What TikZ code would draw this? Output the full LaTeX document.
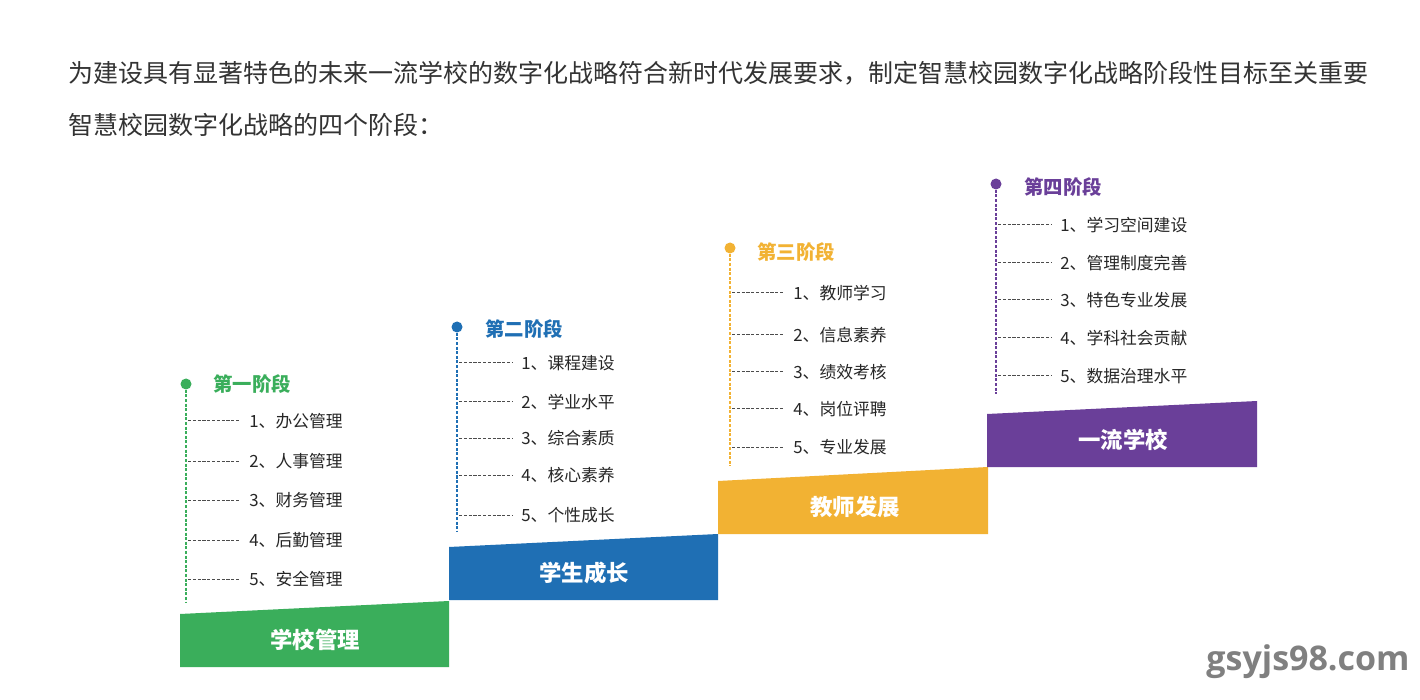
\documentclass[tikz,border=0pt]{standalone}
\usepackage{fontspec}
\setmainfont{Noto Sans CJK SC}
\newfontfamily\markfont{Open Sans}
\definecolor{stageone}{HTML}{3AAE5B}
\definecolor{stagetwo}{HTML}{1F6FB4}
\definecolor{stagethree}{HTML}{F2B233}
\definecolor{stagefour}{HTML}{6A3F99}

\begin{document}
\begin{tikzpicture}[x=0.5pt,y=-0.5pt,
    barlabel/.style ={text=white, font=\fontsize{11.2}{13}\selectfont\bfseries},
    stagedot/.style ={circle, inner sep=0pt, minimum size=5.5pt},
    stagetitle/.style ={anchor=west, inner sep=0pt, font=\fontsize{9.7}{12}\selectfont\bfseries},
    itemtext/.style ={anchor=west, inner sep=0pt, text=black!85, font=\fontsize{8.4}{10}\selectfont},
    stemline/.style ={line width=0.6pt, dash pattern=on 1.5pt off 0.8pt},
    branch/.style ={line width=0.5pt, black!70, dash pattern=on 1.6pt off 0.8pt, shorten >=4.5pt},
    headline/.style ={anchor=west, inner sep=0pt, text=black!80, font=\fontsize{12.5}{15}\selectfont}]
   \fill[white] (0,0) rectangle (1420,700);
   \useasboundingbox (0,0) rectangle (1420,700);

   \node[headline] (h1) at (68,73) {为建设具有显著特色的未来一流学校的数字化战略符合新时代发展要求，制定智慧校园数字化战略阶段性目标至关重要};
   \node[headline] (h2) at (68,125) {智慧校园数字化战略的四个阶段：};

   \fill[stageone] (180,614) -- (449,601) -- (449,667) -- (180,667) -- cycle;
   \fill[stagetwo] (449,547) -- (718,534) -- (718,600) -- (449,600) -- cycle;
   \fill[stagethree] (718,481) -- (988,467) -- (988,534) -- (718,534) -- cycle;
   \fill[stagefour] (987,414) -- (1257,401) -- (1257,467) -- (987,467) -- cycle;
   \node[barlabel] (b1) at (315,640) {学校管理};
   \node[barlabel] (b2) at (584,573) {学生成长};
   \node[barlabel] (b3) at (855,507) {教师发展};
   \node[barlabel] (b4) at (1123,440) {一流学校};

   \node[stagedot, fill=stageone] (d1) at (186,384) {};
   \node[stagetitle, text=stageone] (t1) at (213,384) {第一阶段};
   \coordinate (e1) at (186,602);
   \draw[stemline, stageone] (d1) -- (e1);
   \node[itemtext] (g1) at (249,421) {1、办公管理};
   \node[itemtext] (g2) at (249,461) {2、人事管理};
   \node[itemtext] (g3) at (249,500) {3、财务管理};
   \node[itemtext] (g4) at (249,540) {4、后勤管理};
   \node[itemtext] (g5) at (249,579) {5、安全管理};
   \coordinate (gs1) at (188,421);
   \coordinate (gs2) at (188,461);
   \coordinate (gs3) at (188,500);
   \coordinate (gs4) at (188,540);
   \coordinate (gs5) at (188,579);
   \draw[branch] (gs1) -- (g1.west);
   \draw[branch] (gs2) -- (g2.west);
   \draw[branch] (gs3) -- (g3.west);
   \draw[branch] (gs4) -- (g4.west);
   \draw[branch] (gs5) -- (g5.west);

   \node[stagedot, fill=stagetwo] (d2) at (457,327) {};
   \node[stagetitle, text=stagetwo] (t2) at (485,329) {第二阶段};
   \coordinate (e2) at (457,532);
   \draw[stemline, stagetwo] (d2) -- (e2);
   \node[itemtext] (s1) at (521,363) {1、课程建设};
   \node[itemtext] (s2) at (521,402) {2、学业水平};
   \node[itemtext] (s3) at (521,438) {3、综合素质};
   \node[itemtext] (s4) at (521,475) {4、核心素养};
   \node[itemtext] (s5) at (521,515) {5、个性成长};
   \coordinate (ss1) at (459,363);
   \coordinate (ss2) at (459,402);
   \coordinate (ss3) at (459,438);
   \coordinate (ss4) at (459,475);
   \coordinate (ss5) at (459,515);
   \draw[branch] (ss1) -- (s1.west);
   \draw[branch] (ss2) -- (s2.west);
   \draw[branch] (ss3) -- (s3.west);
   \draw[branch] (ss4) -- (s4.west);
   \draw[branch] (ss5) -- (s5.west);

   \node[stagedot, fill=stagethree] (d3) at (730,248) {};
   \node[stagetitle, text=stagethree] (t3) at (757,252) {第三阶段};
   \coordinate (e3) at (730,466);
   \draw[stemline, stagethree] (d3) -- (e3);
   \node[itemtext] (p1) at (793,293) {1、教师学习};
   \node[itemtext] (p2) at (793,335) {2、信息素养};
   \node[itemtext] (p3) at (793,372) {3、绩效考核};
   \node[itemtext] (p4) at (793,409) {4、岗位评聘};
   \node[itemtext] (p5) at (793,447) {5、专业发展};
   \coordinate (ps1) at (732,293);
   \coordinate (ps2) at (732,335);
   \coordinate (ps3) at (732,372);
   \coordinate (ps4) at (732,409);
   \coordinate (ps5) at (732,447);
   \draw[branch] (ps1) -- (p1.west);
   \draw[branch] (ps2) -- (p2.west);
   \draw[branch] (ps3) -- (p3.west);
   \draw[branch] (ps4) -- (p4.west);
   \draw[branch] (ps5) -- (p5.west);

   \node[stagedot, fill=stagefour] (d4) at (996,184) {};
   \node[stagetitle, text=stagefour] (t4) at (1024,187) {第四阶段};
   \coordinate (e4) at (996,394);
   \draw[stemline, stagefour] (d4) -- (e4);
   \node[itemtext] (f1) at (1060,225) {1、学习空间建设};
   \node[itemtext] (f2) at (1060,263) {2、管理制度完善};
   \node[itemtext] (f3) at (1060,300) {3、特色专业发展};
   \node[itemtext] (f4) at (1060,338) {4、学科社会贡献};
   \node[itemtext] (f5) at (1060,376) {5、数据治理水平};
   \coordinate (fs1) at (998,225);
   \coordinate (fs2) at (998,263);
   \coordinate (fs3) at (998,300);
   \coordinate (fs4) at (998,338);
   \coordinate (fs5) at (998,376);
   \draw[branch] (fs1) -- (f1.west);
   \draw[branch] (fs2) -- (f2.west);
   \draw[branch] (fs3) -- (f3.west);
   \draw[branch] (fs4) -- (f4.west);
   \draw[branch] (fs5) -- (f5.west);

   \node[text=black!50, font=\markfont\fontsize{17}{20}\selectfont\bfseries] (mark) at (1308,662) {gsyjs98.com};
 \end{tikzpicture}
\end{document}
